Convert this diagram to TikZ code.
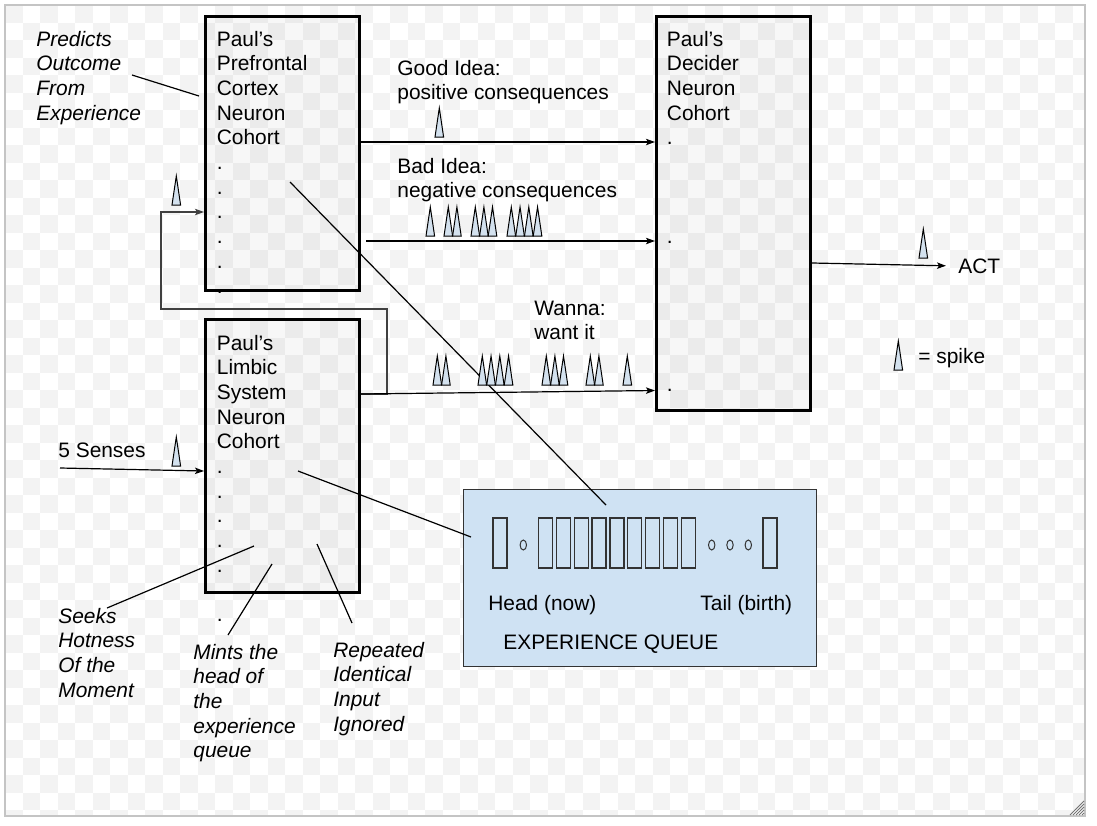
\documentclass[tikz,border=0pt]{standalone}
\usepackage{fontspec}
\setmainfont{Liberation Sans}
\usetikzlibrary{arrows.meta,calc}
\definecolor{qblue}{HTML}{CFE2F3}
\definecolor{spikeblue}{HTML}{D3E1EE}
\definecolor{checker}{HTML}{F3F3F3}
\definecolor{framegray}{HTML}{C4C4C4}
\newcommand\spikeat[2]{\draw[spikest] (#1,#2) -- ++(8.6,0) -- ++(-4.3,-29) -- cycle;}
\begin{document}
\begin{tikzpicture}[x=0.5pt,y=-0.5pt,
  txt/.style={font=\fontsize{10.45}{12.35}\selectfont, align=left, inner sep=0pt, anchor=base west},
  note/.style={txt, font=\fontsize{10.45}{12.35}\selectfont\itshape},
  cohort/.style={draw, line width=1.5pt, minimum width=77pt, anchor=north west, inner sep=0pt, fill=black, fill opacity=0.03},
  arr/.style={line width=0.6pt, -{Stealth[length=4.5pt,width=3.2pt,inset=1pt]}},
  wire/.style={line width=0.6pt},
  spikest/.style={draw, fill=spikeblue, line width=0.5pt, line join=miter},
  cell/.style={draw=black!80, line width=0.6pt},
  dotc/.style={draw=black!80, line width=0.5pt},
]
\useasboundingbox (0,0) rectangle (1097,825);
\fill[white] (0,0) rectangle (1097,825);
% checkerboard background
\begin{scope}
\clip (5,5) rectangle (1085,816);
\foreach \j in {0,...,46} {
  \pgfmathtruncatemacro\st{mod(\j,2)}
  \pgfmathtruncatemacro\stt{\st+2}
  \foreach \i in {\st,\stt,...,62} {
    \fill[checker] (5+\i*17.5,5+\j*17.5) rectangle ++(17.5,17.5);
  }
}
\end{scope}
\draw[framegray, line width=0.6pt] (5,5) rectangle (1085,816);
\foreach \d in {3,6,...,15} {\draw[black!55, line width=0.4pt] (1085-\d,815) -- (1084,816-\d);}

% boxes
\node[cohort, minimum height=137pt] (pfc) at (204,15) {};
\node[cohort, minimum height=136.5pt] (lim) at (204,318) {};
\node[cohort, minimum height=197pt] (dec) at (655,15) {};
\node[draw=black!80, fill=qblue, line width=0.6pt, minimum width=176.5pt, minimum height=88.5pt, anchor=north west, inner sep=0pt] (queue) at (463,489) {};

% box texts (anchored at the baseline of their last line)
\node[txt] (pfct) at (216.5,293) {Paul’s\\Prefrontal\\Cortex\\Neuron\\Cohort\\.\\.\\.\\.\\.\\.};
\node[txt] (limt) at (216.5,621.7) {Paul’s\\Limbic\\System\\Neuron\\Cohort\\.\\.\\.\\.\\.\\\mbox{}\\.};
\node[txt] (dect) at (666.5,391.8) {Paul’s\\Decider\\Neuron\\Cohort\\.\\\mbox{}\\\mbox{}\\\mbox{}\\.\\\mbox{}\\\mbox{}\\\mbox{}\\\mbox{}\\\mbox{}\\.};

% labels
\node[note] (pred) at (36,120.1) {Predicts\\Outcome\\From\\Experience};
\node[txt] (good) at (397,99.7) {Good Idea:\\positive consequences};
\node[txt] (bad) at (397,197.7) {Bad Idea:\\negative consequences};
\node[txt] (wanna) at (534,339.7) {Wanna:\\want it};
\node[txt] (senses) at (58,457) {5 Senses};
\node[txt] (act) at (958,273) {ACT};
\node[txt] (legend) at (918,363) {= spike};
\node[note] (seeks) at (58,697.1) {Seeks\\Hotness\\Of the\\Moment};
\node[note] (mints) at (193,757.8) {Mints the\\head of\\the\\experience\\queue};
\node[note] (rep) at (333,731.1) {Repeated\\Identical\\Input\\Ignored};
\node[txt] (head) at (488,610) {Head (now)};
\node[txt] (tail) at (700,610) {Tail (birth)};
\node[txt] (eq) at (503,649) {EXPERIENCE QUEUE};

% queue cells
\draw[cell] (493,518) rectangle (507,568);
\foreach \k in {0,...,8} {\draw[cell] (538.3+\k*17.9,518) rectangle ++(14,50);}
\draw[cell] (763,518) rectangle (777,568);
\foreach \cx in {523.3,711.7,730,748.3} {\draw[dotc] (\cx,545) ellipse [x radius=3.2, y radius=5];}

% coordinates
\coordinate (yg) at (0,142);
\coordinate (bads) at (366,241);
\coordinate (wy1) at (0,394);
\coordinate (wy2) at (0,390.5);
\coordinate (acty) at (0,263);
\coordinate (sin) at (60,468);
\coordinate (sy) at (0,471);
\coordinate (fbx) at (387,309);
\coordinate (fbl) at (161,212);
\coordinate (p1) at (132,75);  \coordinate (p2) at (199,96);
\coordinate (q1) at (290,182); \coordinate (q2) at (606,505);
\coordinate (l1) at (298,471); \coordinate (l2) at (471,537);
\coordinate (s1) at (107,608); \coordinate (s2) at (254,546);
\coordinate (m1) at (228,635); \coordinate (m2) at (272,564);
\coordinate (r1) at (352,623); \coordinate (r2) at (317,544);

% connectors
\draw[arr, draw=black!75] (lim.east |- wy1) -| (fbx) -| (fbl) -- (pfc.west |- fbl);
\draw[arr] (pfc.east |- yg) -- (dec.west |- yg);
\draw[arr] (bads) -- (dec.west |- bads);
\draw[arr] (lim.east |- wy1) -- (dec.west |- wy2);
\draw[arr] (dec.east |- acty) -- ([xshift=-6pt]act.west);
\draw[arr] (sin) -- (lim.west |- sy);
\draw[wire] (p1) -- (p2);
\draw[wire] (q1) -- (q2);
\draw[wire] (l1) -- (l2);
\draw[wire] (s1) -- (s2);
\draw[wire] (m1) -- (m2);
\draw[wire] (r1) -- (r2);

% spikes
\spikeat{172}{205}
\spikeat{172}{466}
\spikeat{435}{137}
\spikeat{919}{258}
\spikeat{894}{370}
\spikeat{426}{236}
\foreach \i in {0,1} {\spikeat{444+\i*8.6}{236}}
\foreach \i in {0,1,2} {\spikeat{471+\i*8.6}{236}}
\foreach \i in {0,...,3} {\spikeat{507+\i*8.75}{236}}
\foreach \i in {0,1} {\spikeat{433+\i*8.6}{385}}
\foreach \i in {0,...,3} {\spikeat{478+\i*8.75}{385}}
\foreach \i in {0,1,2} {\spikeat{542+\i*8.6}{385}}
\foreach \i in {0,1} {\spikeat{586+\i*8.6}{385}}
\spikeat{623}{385}
\end{tikzpicture}
\end{document}
